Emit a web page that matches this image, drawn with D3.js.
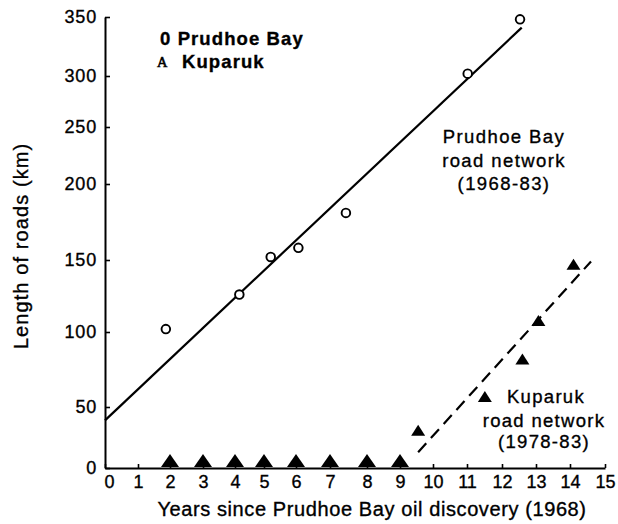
<!DOCTYPE html>
<html>
<head>
<meta charset="utf-8">
<script src="https://cdn.jsdelivr.net/npm/d3@7/dist/d3.min.js"></script>
<style>
  html, body { margin: 0; padding: 0; background: #fff; }
  svg { display: block; }
  text { font-family: "Liberation Sans", Arial, Helvetica, sans-serif; fill: #000; stroke: #000; stroke-width: 0.35px; }
</style>
</head>
<body>
<svg id="chart" width="618" height="524"></svg>
<script>
// ---------------- data ----------------
// Prudhoe Bay road network (open circles)
const prudhoeYears  = [1.87, 4.15, 5.21, 6.07, 7.43, 11.02, 12.53];
const prudhoeLength = [102, 126, 152, 158, 181, 302, 348];
// Prudhoe Bay fitted trend (solid line), endpoints
const prudhoeFitYears  = [0, 12.58];
const prudhoeFitLength = [39, 341];

// Kuparuk road network (filled triangles)
const kuparukYears  = [2, 3, 4, 5, 6, 7, 8, 9, 9.55, 11.51, 12.6, 13.07, 14.1];
const kuparukLength = [0, 0, 0, 0, 0, 0, 0, 0, 31, 57, 82, 108, 147];
// Kuparuk fitted trend (dashed line), endpoints
const kuparukFitYears  = [9.55, 14.6];
const kuparukFitLength = [13, 149];

// tick labels
const xTicks = [0,1,2,3,4,5,6,7,8,9,10,11,12,13,14,15];
const yTicks = [0,50,100,150,200,250,300,350];

// ---------------- layout ----------------
const svg = d3.select("#chart");
// axis calibration of the hand-drafted original (tick spacing is uneven)
const xTickPx = [105,138,170,203,235,264,296,330,367,400,433,467,502,536,570,605];
const yTickPx = [468,407,332,260,184,127,76,17];

const x = d3.scaleLinear().domain(xTicks).range(xTickPx);
const y = d3.scaleLinear().domain(yTicks).range(yTickPx);

// axes
const xAxis = d3.axisBottom(x).tickValues(xTicks).tickFormat(d3.format("d"))
  .tickSizeInner(-4).tickSizeOuter(0).tickPadding(7);
const yAxis = d3.axisLeft(y).tickValues(yTicks).tickFormat(d3.format("d"))
  .tickSizeInner(-5).tickSizeOuter(0).tickPadding(8);

const gx = svg.append("g").attr("transform", `translate(0,${y(0)})`).call(xAxis);
const gy = svg.append("g").attr("transform", `translate(${x(0)},0)`).call(yAxis);

[gx, gy].forEach(g => {
  g.select(".domain").attr("stroke", "#000").attr("stroke-width", 2);
  g.selectAll(".tick line").attr("stroke", "#000").attr("stroke-width", 1.6);
  g.selectAll(".tick text").attr("fill", "#000")
    .style("font-family", "'Liberation Sans', Arial, sans-serif")
    .style("font-size", "18px");
});
gy.selectAll(".tick text").style("letter-spacing", "0.8px");
// "0" on x axis sits just right of the corner
gx.selectAll(".tick text").filter(d => d === 0).attr("dx", 4);

// axis titles
svg.append("text")
  .attr("x", 372).attr("y", 516)
  .attr("text-anchor", "middle")
  .style("font-size", "20px").style("letter-spacing", "0.6px")
  .text("Years since Prudhoe Bay oil discovery (1968)");

svg.append("text")
  .attr("transform", `translate(28,${246}) rotate(-90)`)
  .attr("text-anchor", "middle")
  .style("font-size", "20px").style("letter-spacing", "1.1px")
  .text("Length of roads (km)");

// ---------------- trend lines ----------------
const line = d3.line().x(d => x(d[0])).y(d => y(d[1]));

svg.append("path")
  .datum(d3.zip(prudhoeFitYears, prudhoeFitLength))
  .attr("d", line)
  .attr("fill", "none").attr("stroke", "#000").attr("stroke-width", 2.2);

svg.append("path")
  .datum(d3.zip(kuparukFitYears, kuparukFitLength))
  .attr("d", line)
  .attr("fill", "none").attr("stroke", "#000").attr("stroke-width", 2.2)
  .attr("stroke-dasharray", "12,7");

// ---------------- markers ----------------
svg.append("g").selectAll("circle")
  .data(d3.zip(prudhoeYears, prudhoeLength))
  .join("circle")
  .attr("cx", d => x(d[0])).attr("cy", d => y(d[1]))
  .attr("r", 4.3)
  .attr("fill", "#fff").attr("stroke", "#000").attr("stroke-width", 1.9);

function triPath(w, h) {
  return `M0,${-h/2}L${w/2},${h/2}L${-w/2},${h/2}Z`;
}
svg.append("g").selectAll("path")
  .data(d3.zip(kuparukYears, kuparukLength))
  .join("path")
  .attr("d", d => d[1] === 0 ? triPath(18, 13) : triPath(14, 11))
  .attr("transform", d => {
    const h = d[1] === 0 ? 13 : 11;
    const cy = Math.min(y(d[1]), y(0) - h / 2 - 1);
    return `translate(${x(d[0])},${cy})`;
  })
  .attr("fill", "#000");

// ---------------- legend ----------------
svg.append("text").attr("x", 160).attr("y", 45)
  .style("font-size", "18.5px").style("font-weight", "bold").style("letter-spacing", "1.1px")
  .text("0 Prudhoe Bay");
svg.append("text").attr("x", 157).attr("y", 67)
  .style("font-family", "'Liberation Serif', 'Times New Roman', serif")
  .style("font-size", "14.5px").style("stroke-width", "0.6px")
  .text("A");
svg.append("text").attr("x", 182).attr("y", 68)
  .style("font-size", "18.5px").style("font-weight", "bold").style("letter-spacing", "1.1px")
  .text("Kuparuk");

// ---------------- annotations ----------------
const annoPB = ["Prudhoe Bay", "road network", "(1968-83)"];
const annoPBy = [143, 167, 190];
annoPB.forEach((t, i) => {
  svg.append("text").attr("x", 504).attr("y", annoPBy[i])
    .attr("text-anchor", "middle")
    .style("font-size", "18.5px").style("letter-spacing", "1.4px")
    .text(t);
});

const annoKU = ["Kuparuk", "road network", "(1978-83)"];
const annoKUx = [546, 544, 544];
const annoKUy = [403, 427, 448];
annoKU.forEach((t, i) => {
  svg.append("text").attr("x", annoKUx[i]).attr("y", annoKUy[i])
    .attr("text-anchor", "middle")
    .style("font-size", "18.5px").style("letter-spacing", "1.3px")
    .text(t);
});
</script>
</body>
</html>
